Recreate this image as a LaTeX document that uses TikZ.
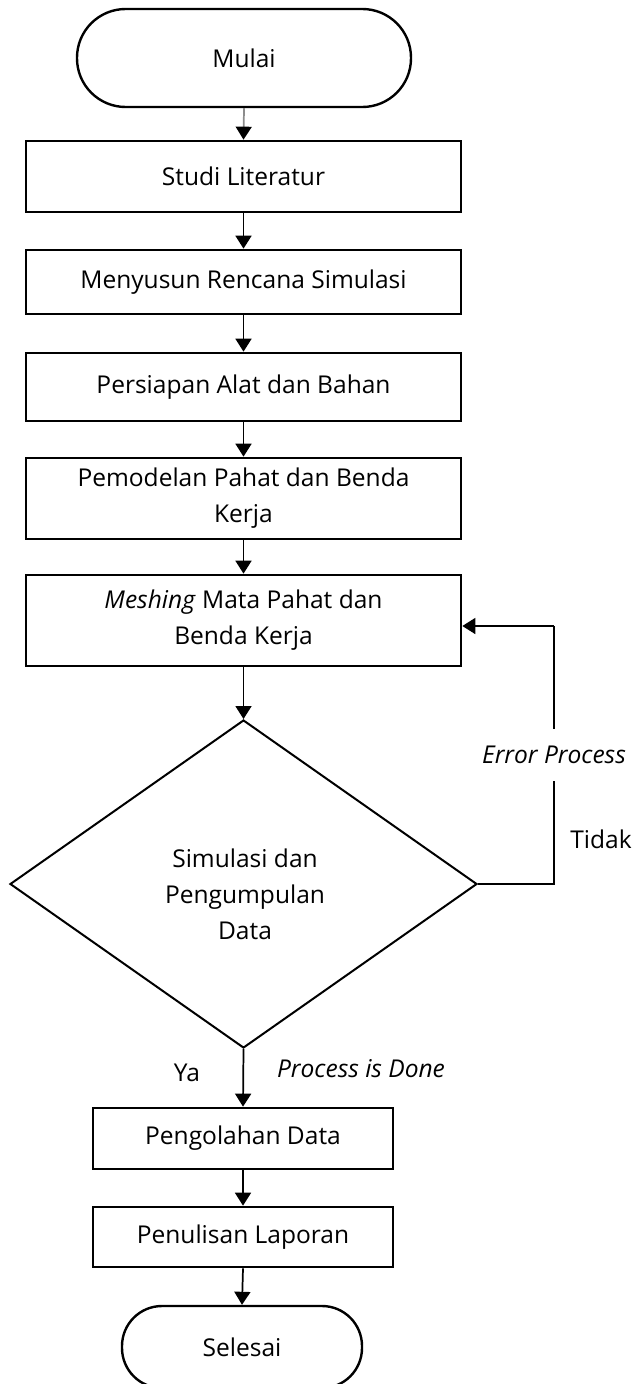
\documentclass[tikz,border=0pt]{standalone}
\usepackage{fontspec}
\setmainfont{Open Sans}
\usetikzlibrary{arrows.meta,shapes.geometric,calc}

\begin{document}
\begin{tikzpicture}[x=0.75pt,y=-0.75pt,
  every node/.style={font=\fontsize{18.4pt}{27pt}\selectfont, inner sep=0pt},
  terminal/.style={draw, line width=1.8pt, rectangle, rounded corners=#1, align=center},
  process/.style={draw, line width=2pt, rectangle, align=center},
  decision/.style={draw, line width=1.5pt, diamond, inner sep=0pt},
  flow/.style={line width=1.3pt, -{Triangle[length=9.75pt,width=12pt,color=black]}},
  loopline/.style={line width=1.1pt},
  lbl/.style={align=center}
]
\useasboundingbox (0,0) rectangle (635,1384);
\clip (0,0) rectangle (635,1384);

% start / end terminals
\node[terminal=36.5pt, minimum width=250.5pt, minimum height=73.5pt] (start) at (244,58) {Mulai};

% process steps
\node[process, minimum width=326.25pt, minimum height=53.25pt] (lit)  at (243.5,176.5) {Studi Literatur};
\node[process, minimum width=326.25pt, minimum height=48pt]    (plan) at (243.5,282)   {Menyusun Rencana Simulasi};
\node[process, minimum width=326.25pt, minimum height=51pt]    (prep) at (243.5,387)   {Persiapan Alat dan Bahan};
\node[process, minimum width=326.25pt, minimum height=60.75pt] (model) at (243.5,498.5) {Pemodelan Pahat dan Benda\\Kerja};
\node[process, minimum width=326.25pt, minimum height=68.25pt] (mesh) at (243.5,620.5) {\textit{Meshing} Mata Pahat dan\\Benda Kerja};

% decision
\node[decision, minimum width=350.25pt, minimum height=246pt] (dec) at (243.5,884) {};
\node[lbl] (dectext) at (245,894) {Simulasi dan\\Pengumpulan\\Data};

\node[process, minimum width=225pt, minimum height=45.75pt] (proc) at (243,1138.5) {Pengolahan Data};
\node[process, minimum width=225pt, minimum height=45pt]    (rep)  at (243,1237)    {Penulisan Laporan};
\node[terminal=30pt, minimum width=180pt, minimum height=61.5pt] (stop) at (242,1347) {Selesai};

% main flow
\draw[flow, draw=black!45] (start.south) -- (lit.north);
\draw[flow] (lit.south) -- (plan.north);
\draw[flow] (plan.south) -- (prep.north);
\draw[flow] (prep.south) -- (model.north);
\draw[flow] (model.south) -- (mesh.north);
\draw[flow] (mesh.south) -- (dec.north);
\draw[flow] (dec.south) -- (proc.north);
\draw[flow] (proc.south) -- (rep.north);
\draw[flow] (rep.south) -- (stop.north);

% feedback loop from the decision back to meshing
\coordinate (c1) at (554,884);
\coordinate (c2) at (554,626);
\draw[loopline] (dec.east) -- (c1) -- node[pos=0.5, fill=white, inner xsep=1pt, inner ysep=13pt, font=\fontsize{18.4pt}{27pt}\selectfont\itshape] (err) {Error Process} (c2);
\draw[loopline, -{Triangle[length=9.75pt,width=12pt]}] (c2) -- (c2 -| mesh.east);

% branch labels
\node (no)   at (601,839)  {Tidak};
\node (yes)  at (187,1073) {Ya};
\node[font=\fontsize{18.4pt}{27pt}\selectfont\itshape] (done) at (361,1069) {Process is Done};
\end{tikzpicture}
\end{document}
